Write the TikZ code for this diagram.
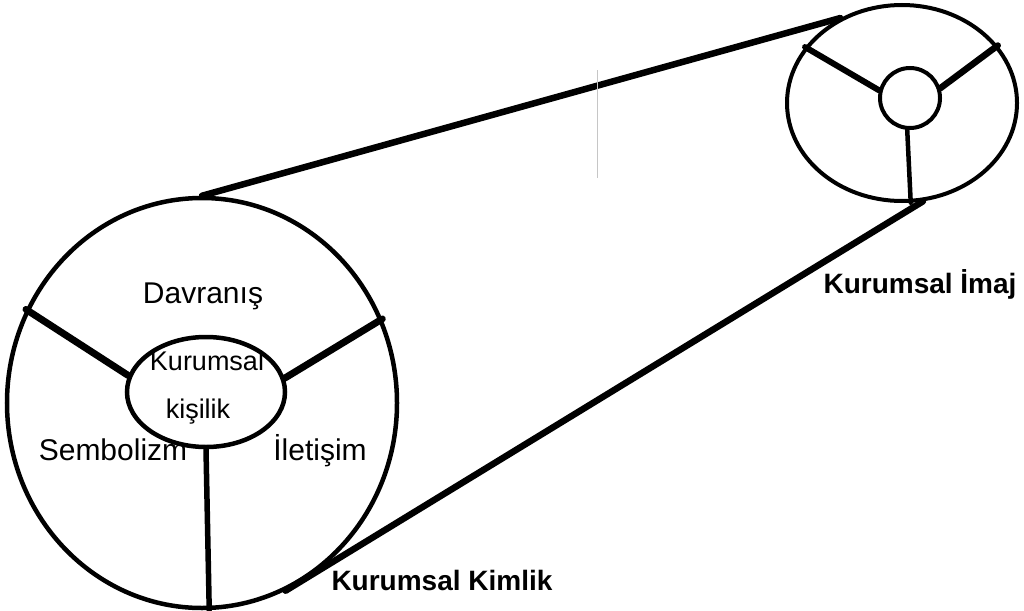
\documentclass[tikz,border=0pt]{standalone}
\usepackage{fontspec}
\setmainfont{Liberation Sans}
\usetikzlibrary{shapes.geometric}
\begin{document}
\begin{tikzpicture}[x=1pt,y=-1pt,
  ring/.style={draw,ellipse,inner sep=0pt,line width=#1},
  spoke/.style={line width=#1,line cap=round},
  belt/.style={line width=6.5pt,line cap=round},
  lbl/.style={anchor=base,inner sep=0pt,font=\fontsize{30}{32}\selectfont},
  inlbl/.style={anchor=base,inner sep=0pt,font=\fontsize{27}{29}\selectfont},
  blbl/.style={anchor=base,inner sep=0pt,font=\fontsize{28}{30}\selectfont\bfseries}]
\useasboundingbox (0,0) rectangle (1024,610);
% large wheel
\node[ring=4.5pt,minimum width=390pt,minimum height=410pt] (big) at (202,403) {};
\node[ring=4.5pt,minimum width=158pt,minimum height=110pt] (core) at (206,392) {};
\draw[spoke=7pt] (core.168) -- (big.152.6);
\draw[spoke=7pt] (core.10) -- (big.25.4);
\draw[spoke=5.5pt] (core.-90) -- (big.-88.9);
% small wheel
\node[ring=4pt,minimum width=230pt,minimum height=196pt] (small) at (902,103) {};
\node[ring=4pt,minimum width=60pt,minimum height=60pt] (hub) at (910,98) {};
\draw[spoke=6pt] (hub.166) -- (small.150);
\draw[spoke=6.5pt] (hub.18) -- (small.31.6);
\draw[spoke=4.5pt] (hub.-95) -- (small.-85);
% belts
\draw[belt] (big.90.6) -- (small.126.8);
\draw[belt] (big.-66) -- (small.-78);
% faint scan mark
\coordinate (m1) at (597,70);
\coordinate (m2) at (597,178);
\draw[gray!45,line width=0.7pt] (m1) -- (m2);
% labels
\node[lbl] (davranis) at (203,303) {Davranış};
\node[inlbl] (kurumsal) at (207,370) {Kurumsal};
\node[inlbl] (kisilik) at (198,418) {kişilik};
\node[lbl] (sembolizm) at (113,460) {Sembolizm};
\node[lbl] (iletisim) at (320,460) {İletişim};
\node[blbl] (kimlik) at (442,590) {Kurumsal Kimlik};
\node[blbl] (imaj) at (920,293) {Kurumsal İmaj};
\end{tikzpicture}
\end{document}
